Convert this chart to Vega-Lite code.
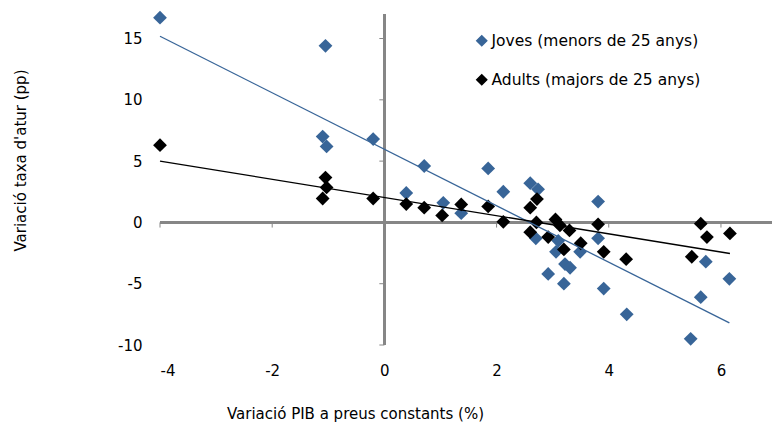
{
  "$schema": "https://vega.github.io/schema/vega-lite/v6.json",
  "width": 612,
  "height": 331,
  "autosize": "none",
  "padding": {"left": 160, "top": 14, "right": 1, "bottom": 81},
  "config": {
    "view": {"stroke": null},
    "font": "DejaVu Sans"
  },
  "datasets": {
    "punts": [
      {"serie": "Joves (menors de 25 anys)", "pib": -4.0, "atur": 16.7},
      {"serie": "Joves (menors de 25 anys)", "pib": -1.05, "atur": 14.4},
      {"serie": "Joves (menors de 25 anys)", "pib": -1.1, "atur": 7.0},
      {"serie": "Joves (menors de 25 anys)", "pib": -1.03, "atur": 6.2},
      {"serie": "Joves (menors de 25 anys)", "pib": -0.2, "atur": 6.8},
      {"serie": "Joves (menors de 25 anys)", "pib": 0.71, "atur": 4.6},
      {"serie": "Joves (menors de 25 anys)", "pib": 0.39, "atur": 2.4},
      {"serie": "Joves (menors de 25 anys)", "pib": 1.05, "atur": 1.6},
      {"serie": "Joves (menors de 25 anys)", "pib": 1.37, "atur": 0.75},
      {"serie": "Joves (menors de 25 anys)", "pib": 1.85, "atur": 4.4},
      {"serie": "Joves (menors de 25 anys)", "pib": 2.12, "atur": 2.5},
      {"serie": "Joves (menors de 25 anys)", "pib": 2.6, "atur": 3.2},
      {"serie": "Joves (menors de 25 anys)", "pib": 2.74, "atur": 2.7},
      {"serie": "Joves (menors de 25 anys)", "pib": 3.81, "atur": 1.7},
      {"serie": "Joves (menors de 25 anys)", "pib": 3.81, "atur": -1.3},
      {"serie": "Joves (menors de 25 anys)", "pib": 2.7, "atur": -1.3},
      {"serie": "Joves (menors de 25 anys)", "pib": 3.1, "atur": -1.5},
      {"serie": "Joves (menors de 25 anys)", "pib": 3.06, "atur": -2.4},
      {"serie": "Joves (menors de 25 anys)", "pib": 3.49, "atur": -2.4},
      {"serie": "Joves (menors de 25 anys)", "pib": 3.22, "atur": -3.4},
      {"serie": "Joves (menors de 25 anys)", "pib": 3.31, "atur": -3.7},
      {"serie": "Joves (menors de 25 anys)", "pib": 2.92, "atur": -4.2},
      {"serie": "Joves (menors de 25 anys)", "pib": 3.2, "atur": -5.0},
      {"serie": "Joves (menors de 25 anys)", "pib": 3.91, "atur": -5.4},
      {"serie": "Joves (menors de 25 anys)", "pib": 4.32, "atur": -7.5},
      {"serie": "Joves (menors de 25 anys)", "pib": 5.46, "atur": -9.5},
      {"serie": "Joves (menors de 25 anys)", "pib": 5.73, "atur": -3.2},
      {"serie": "Joves (menors de 25 anys)", "pib": 6.15, "atur": -4.6},
      {"serie": "Joves (menors de 25 anys)", "pib": 5.64, "atur": -6.1},
      {"serie": "Adults (majors de 25 anys)", "pib": -4.0, "atur": 6.3},
      {"serie": "Adults (majors de 25 anys)", "pib": -1.05, "atur": 3.66},
      {"serie": "Adults (majors de 25 anys)", "pib": -1.03, "atur": 2.85},
      {"serie": "Adults (majors de 25 anys)", "pib": -1.1, "atur": 1.95},
      {"serie": "Adults (majors de 25 anys)", "pib": -0.2, "atur": 1.95},
      {"serie": "Adults (majors de 25 anys)", "pib": 0.39, "atur": 1.5},
      {"serie": "Adults (majors de 25 anys)", "pib": 0.71, "atur": 1.2},
      {"serie": "Adults (majors de 25 anys)", "pib": 1.03, "atur": 0.57},
      {"serie": "Adults (majors de 25 anys)", "pib": 1.37, "atur": 1.47},
      {"serie": "Adults (majors de 25 anys)", "pib": 1.85, "atur": 1.3},
      {"serie": "Adults (majors de 25 anys)", "pib": 2.12, "atur": 0.05},
      {"serie": "Adults (majors de 25 anys)", "pib": 2.6, "atur": 1.2},
      {"serie": "Adults (majors de 25 anys)", "pib": 2.72, "atur": 1.9},
      {"serie": "Adults (majors de 25 anys)", "pib": 2.71, "atur": 0.0},
      {"serie": "Adults (majors de 25 anys)", "pib": 2.6, "atur": -0.8},
      {"serie": "Adults (majors de 25 anys)", "pib": 2.92, "atur": -1.2},
      {"serie": "Adults (majors de 25 anys)", "pib": 3.05, "atur": 0.24},
      {"serie": "Adults (majors de 25 anys)", "pib": 3.13, "atur": -0.25},
      {"serie": "Adults (majors de 25 anys)", "pib": 3.3, "atur": -0.65},
      {"serie": "Adults (majors de 25 anys)", "pib": 3.2, "atur": -2.2},
      {"serie": "Adults (majors de 25 anys)", "pib": 3.5, "atur": -1.7},
      {"serie": "Adults (majors de 25 anys)", "pib": 3.81, "atur": -0.16},
      {"serie": "Adults (majors de 25 anys)", "pib": 3.91, "atur": -2.4},
      {"serie": "Adults (majors de 25 anys)", "pib": 4.31, "atur": -3.0},
      {"serie": "Adults (majors de 25 anys)", "pib": 5.48, "atur": -2.8},
      {"serie": "Adults (majors de 25 anys)", "pib": 5.64, "atur": -0.1},
      {"serie": "Adults (majors de 25 anys)", "pib": 5.75, "atur": -1.2},
      {"serie": "Adults (majors de 25 anys)", "pib": 6.16, "atur": -0.9}
    ],
    "marquesx": [{"v": -4}, {"v": -2}, {"v": 2}, {"v": 4}, {"v": 6}],
    "marquesy": [{"v": -10}, {"v": -5}, {"v": 5}, {"v": 10}, {"v": 15}]
  },
  "layer": [
    {
      "data": {"name": "marquesx"},
      "mark": {"type": "rule", "color": "#868686", "strokeWidth": 1},
      "encoding": {
        "x": {"field": "v", "type": "quantitative"},
        "y": {"datum": 0, "type": "quantitative"},
        "y2": {"datum": -0.42}
      }
    },
    {
      "data": {"name": "marquesy"},
      "mark": {"type": "rule", "color": "#868686", "strokeWidth": 1},
      "encoding": {
        "y": {"field": "v", "type": "quantitative"},
        "x": {"datum": 0, "type": "quantitative"},
        "x2": {"datum": -0.09}
      }
    },
    {
      "data": {"name": "punts"},
      "mark": {"type": "rule", "color": "#868686", "strokeWidth": 2},
      "encoding": {"x": {"datum": 0, "type": "quantitative"}}
    },
    {
      "data": {"name": "punts"},
      "mark": {"type": "rule", "color": "#868686", "strokeWidth": 2},
      "encoding": {"y": {"datum": 0, "type": "quantitative"}}
    },
    {
      "data": {"name": "punts"},
      "mark": {"type": "point", "shape": "diamond", "filled": true, "size": 190, "opacity": 1},
      "encoding": {
        "x": {
          "field": "pib", "type": "quantitative",
          "scale": {"domain": [-4, 6.91], "nice": false, "zero": false},
          "title": "Variació PIB a preus constants (%)",
          "axis": {"grid": false, "domain": false, "ticks": false, "values": [-4, -2, 0, 2, 4, 6], "labelPadding": 18,
                   "labelExpr": "'' + datum.value",
                   "labelFontSize": 15, "titleFontSize": 15, "titleFontWeight": "normal", "labelColor": "#000000", "titleColor": "#000000",
                   "titleX": 195, "titleY": 68, "titleBaseline": "middle", "titleAlign": "center"}
        },
        "y": {
          "field": "atur", "type": "quantitative",
          "scale": {"domain": [-10, 17], "nice": false, "zero": false},
          "title": "Variació taxa d'atur (pp)",
          "axis": {"grid": false, "domain": false, "ticks": false, "values": [-10, -5, 0, 5, 10, 15], "labelPadding": 18,
                   "labelExpr": "'' + datum.value",
                   "labelFontSize": 15, "titleFontSize": 15, "titleFontWeight": "normal", "labelColor": "#000000", "titleColor": "#000000",
                   "titleX": -140, "titleY": 146, "titleAngle": -90, "titleBaseline": "middle", "titleAlign": "center"}
        },
        "color": {
          "field": "serie", "type": "nominal",
          "scale": {"domain": ["Joves (menors de 25 anys)", "Adults (majors de 25 anys)"], "range": ["#386598", "#000000"]},
          "legend": {"title": null, "orient": "none", "legendX": 314, "legendY": 19, "symbolSize": 100, "symbolType": "diamond",
                     "labelFontSize": 15.5, "labelColor": "#000000", "labelLimit": 400, "rowPadding": 21, "labelOffset": 2, "padding": 0}
        }
      }
    },
    {
      "data": {"name": "punts"},
      "transform": [{"regression": "atur", "on": "pib", "groupby": ["serie"]}],
      "mark": {"type": "line", "strokeWidth": 1.3},
      "encoding": {
        "x": {"field": "pib", "type": "quantitative"},
        "y": {"field": "atur", "type": "quantitative"},
        "stroke": {
          "field": "serie", "type": "nominal",
          "scale": {"domain": ["Joves (menors de 25 anys)", "Adults (majors de 25 anys)"], "range": ["#386598", "#000000"]},
          "legend": null
        }
      }
    }
  ]
}
